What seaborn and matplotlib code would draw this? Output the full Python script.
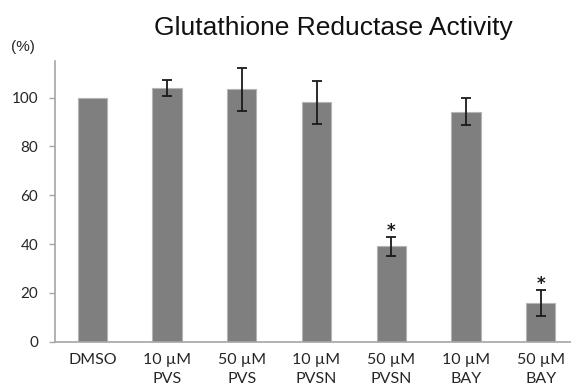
import matplotlib
matplotlib.use("Agg")
import matplotlib.pyplot as plt
import seaborn as sns
import numpy as np
import pandas as pd

categories = ["DMSO", "10 µM\nPVS", "50 µM\nPVS", "10 µM\nPVSN", "50 µM\nPVSN", "10 µM\nBAY", "50 µM\nBAY"]
values = [100.0, 104.0, 103.4, 98.1, 39.2, 94.3, 16.0]
errors = [0.0, 3.2, 8.7, 8.8, 3.9, 5.4, 5.3]
marks = ["", "", "", "", "*", "", "*"]
yticks = [0, 20, 40, 60, 80, 100]
title = "Glutathione Reductase Activity"
unit_label = "(%)"

sns.set_theme(style="white")
plt.rcParams["font.family"] = ["Lato", "DejaVu Sans"]

fig = plt.figure(figsize=(5.71, 3.90), dpi=100)
ax = fig.add_axes([0.0963, 0.1238, 0.916, 0.7198])

df = pd.DataFrame({"cat": categories, "val": values})
sns.barplot(data=df, x="cat", y="val", color="#7f7f7f", saturation=1,
            width=0.39, edgecolor="#b5b5b5", linewidth=0.8, ax=ax)

pos = np.arange(len(categories))
vals = np.array(values)
errs = np.array(errors)
m = errs > 0
ax.errorbar(pos[m], vals[m], yerr=errs[m], fmt="none", ecolor="#1a1a1a",
            elinewidth=1.3, capsize=3.5, capthick=1.3, zorder=5)

for p, v, e, s in zip(pos, values, errors, marks):
    if s:
        ax.text(p, v + e + 2.2, s, ha="center", va="center", fontsize=12,
                fontweight="bold", color="#1a1a1a", family=["DejaVu Sans"])

ax.set_xlim(-0.5, len(categories) - 0.5)
ax.set_ylim(0, 115)
ax.set_yticks(yticks)
ax.set_yticklabels([str(t) for t in yticks], fontsize=11, color="#262626")
ax.set_xticks(pos)
ax.set_xticklabels(categories, fontsize=11.5, color="#262626", linespacing=1.45)
ax.set_xticks(np.arange(len(categories)) + 0.5, minor=True)
ax.tick_params(axis="x", which="major", length=0, pad=8)
ax.tick_params(axis="x", which="minor", length=4, width=1, color="#a6a6a6", direction="out")
ax.tick_params(axis="y", which="major", length=4, width=1, color="#a6a6a6", direction="out", pad=8, left=True)
ax.set_xlabel("")
ax.set_ylabel("")

for side in ["top", "right"]:
    ax.spines[side].set_visible(False)
for side in ["left", "bottom"]:
    ax.spines[side].set_color("#a6a6a6")
    ax.spines[side].set_linewidth(1.2)

fig.text(0.583, 0.928, title, ha="center", va="center", fontsize=19,
         family=["Liberation Sans", "DejaVu Sans"], color="#111111")
fig.text(0.041, 0.88, unit_label, ha="center", va="center", fontsize=11,
         family=["Liberation Sans", "DejaVu Sans"], color="#262626")

fig.savefig("out.png", dpi=100)
